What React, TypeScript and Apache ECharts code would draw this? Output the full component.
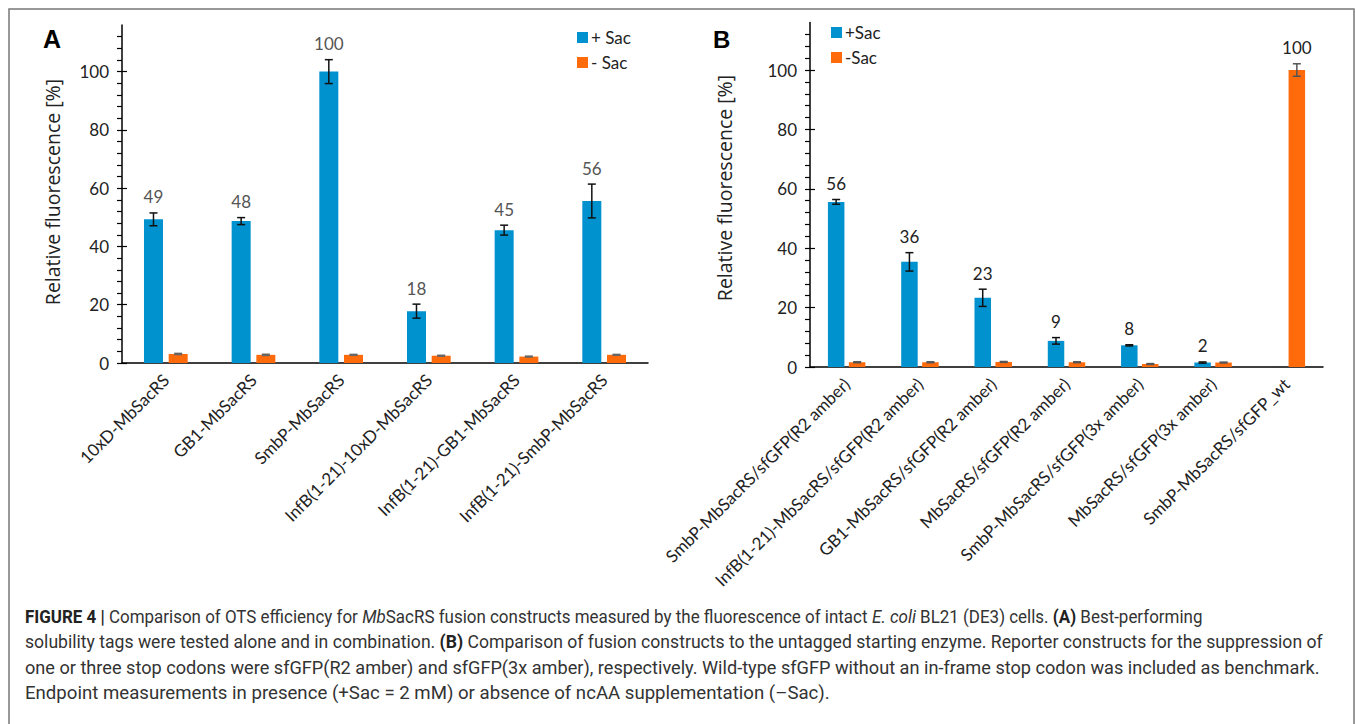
import React, { useEffect, useRef } from "react";
import * as echarts from "echarts";

// ---------- Data ----------
const catsA = [
  "10xD-MbSacRS",
  "GB1-MbSacRS",
  "SmbP-MbSacRS",
  "InfB(1-21)-10xD-MbSacRS",
  "InfB(1-21)-GB1-MbSacRS",
  "InfB(1-21)-SmbP-MbSacRS",
];
const aPlus = [49.3, 48.7, 100, 17.8, 45.6, 55.6];
const aPlusErr = [2.2, 1.2, 4.1, 2.4, 1.7, 5.8];
const aPlusLabels = ["49", "48", "100", "18", "45", "56"];
const aMinus = [3.1, 2.8, 2.8, 2.5, 2.2, 2.8];
const aMinusErr = [0.2, 0.2, 0.15, 0.15, 0.15, 0.15];
const aMinusLabels = ["", "", "", "", "", ""];

const catsB = [
  "SmbP-MbSacRS/sfGFP(R2 amber)",
  "InfB(1-21)-MbSacRS/sfGFP(R2 amber)",
  "GB1-MbSacRS/sfGFP(R2 amber)",
  "MbSacRS/sfGFP(R2 amber)",
  "SmbP-MbSacRS/sfGFP(3x amber)",
  "MbSacRS/sfGFP(3x amber)",
  "SmbP-MbSacRS/sfGFP_wt",
];
const bPlus: (number | null)[] = [55.6, 35.4, 23.3, 8.8, 7.3, 1.5, null];
const bPlusErr = [0.8, 3.1, 2.9, 1.1, 0.2, 0.2, 0];
const bPlusLabels = ["56", "36", "23", "9", "8", "2", ""];
const bMinus = [1.6, 1.6, 1.7, 1.6, 1.0, 1.5, 100];
const bMinusErr = [0.15, 0.15, 0.15, 0.15, 0.15, 0.15, 2.1];
const bMinusLabels = ["", "", "", "", "", "", "100"];

const yTicks = [0, 20, 40, 60, 80, 100];

const captionLines = [
  "{b|FIGURE 4 |} Comparison of OTS efficiency for {i|Mb}SacRS fusion constructs measured by the fluorescence of intact {i|E. coli} BL21 (DE3) cells. {b|(A)} Best-performing",
  "solubility tags were tested alone and in combination. {b|(B)} Comparison of fusion constructs to the untagged starting enzyme. Reporter constructs for the suppression of",
  "one or three stop codons were sfGFP(R2 amber) and sfGFP(3x amber), respectively. Wild-type sfGFP without an in-frame stop codon was included as benchmark.",
  "Endpoint measurements in presence (+Sac = 2 mM) or absence of ncAA supplementation (\u2013Sac).",
];
// horizontal stretch per caption line to match the reference's condensed face
const captionStretch = [0.964, 1.0, 1.031, 1.059];

// ---------- Styles ----------
const BLUE = "#0091CF";
const ORANGE = "#FF6A0B";
const LATO = "Lato, 'Noto Sans', sans-serif";
const CAP_SIZE = 17.6;

function errSeries(
  name: string,
  xi: number,
  yi: number,
  vals: (number | null)[],
  errs: number[],
  labels: string[],
  offset: number,
  color: string,
  labelColor: string
) {
  return {
    type: "custom",
    name: name + "_err",
    xAxisIndex: xi,
    yAxisIndex: yi,
    silent: true,
    z: 5,
    data: vals.map((v, i) => [i, v == null ? NaN : v, errs[i]]),
    renderItem: (params: any, api: any) => {
      const i = api.value(0);
      const v = api.value(1);
      const e = api.value(2);
      if (isNaN(v)) return null;
      const c = api.coord([i, v]);
      const t = api.coord([i, v + e]);
      const b = api.coord([i, Math.max(0, v - e)]);
      const x = c[0] + offset;
      const cap = 4;
      const st = { stroke: color, lineWidth: 1.5 };
      const children: any[] = [
        { type: "line", shape: { x1: x, y1: t[1], x2: x, y2: b[1] }, style: st },
        { type: "line", shape: { x1: x - cap, y1: t[1], x2: x + cap, y2: t[1] }, style: st },
        { type: "line", shape: { x1: x - cap, y1: b[1], x2: x + cap, y2: b[1] }, style: st },
      ];
      const lab = labels[params.dataIndex];
      if (lab) {
        children.push({
          type: "text",
          style: {
            text: lab,
            x: x,
            y: t[1] - 16,
            align: "center",
            verticalAlign: "middle",
            fill: labelColor,
            font: "17px " + LATO,
          },
        });
      }
      return { type: "group", children };
    },
  };
}

function yAxisPair(gridIndex: number) {
  const main = {
    type: "value",
    gridIndex,
    min: 0,
    max: 116,
    interval: 4,
    axisLine: { show: true, lineStyle: { color: "#000", width: 1.5 } },
    axisTick: { show: true, length: 5, lineStyle: { color: "#000", width: 1.2 } },
    splitLine: { show: false },
    axisLabel: {
      margin: 13,
      color: "#222",
      fontFamily: LATO,
      fontSize: 17,
      showMaxLabel: false,
      formatter: (v: number) => (yTicks.indexOf(v) >= 0 ? String(v) : ""),
    },
  };
  const overlay = {
    type: "value",
    gridIndex,
    min: 0,
    max: 100,
    interval: 20,
    axisLine: { show: false },
    axisTick: { show: true, inside: true, length: 5, lineStyle: { color: "#000", width: 1.2 } },
    splitLine: { show: false },
    axisLabel: { show: false },
  };
  return [main, overlay];
}

const xLabelStyle = { rotate: 45, interval: 0, margin: 14, color: "#222", fontFamily: LATO, fontSize: 17 };
const legendText = { fontFamily: LATO, fontSize: 17, color: "#222", padding: [0, 0, 0, -2] };
const titleFont = "19.5px 'Open Sans', sans-serif";

export default function App() {
  const ref = useRef<HTMLDivElement>(null);
  useEffect(() => {
    if (!ref.current) return;
    const chart = echarts.init(ref.current, undefined, { renderer: "svg" });
    const [yA, yAo] = yAxisPair(0);
    const [yB, yBo] = yAxisPair(1);
    const option: any = {
      animation: false,
      backgroundColor: "#fff",
      grid: [
        { left: 122, top: 25, width: 526, height: 338 },
        { left: 810, top: 22.5, width: 513, height: 344.5 },
        { left: 122, top: 363 - 291.4, width: 526, height: 291.4 },
        { left: 810, top: 367 - 297, width: 513, height: 297 },
      ],
      xAxis: [
        {
          type: "category",
          gridIndex: 0,
          data: catsA,
          axisLine: { lineStyle: { color: "#000", width: 1.5 } },
          axisTick: { show: false },
          axisLabel: xLabelStyle,
        },
        {
          type: "category",
          gridIndex: 1,
          data: catsB,
          axisLine: { lineStyle: { color: "#000", width: 1.5 } },
          axisTick: { show: false },
          axisLabel: xLabelStyle,
        },
        { type: "category", gridIndex: 2, data: catsA, show: false },
        { type: "category", gridIndex: 3, data: catsB, show: false },
      ],
      yAxis: [yA, yB, { ...yAo, gridIndex: 2 }, { ...yBo, gridIndex: 3 }],
      legend: [
        {
          data: ["+ Sac", "- Sac"],
          orient: "vertical",
          left: 572,
          top: 24,
          icon: "rect",
          itemWidth: 11,
          itemHeight: 11,
          itemGap: 8,
          textStyle: legendText,
        },
        {
          data: ["+Sac", "-Sac"],
          orient: "vertical",
          left: 826,
          top: 19,
          icon: "rect",
          itemWidth: 11,
          itemHeight: 11,
          itemGap: 8,
          textStyle: legendText,
        },
      ],
      series: [
        { type: "bar", name: "+ Sac", xAxisIndex: 0, yAxisIndex: 0, data: aPlus, barWidth: 19, barGap: "30%", itemStyle: { color: BLUE } },
        { type: "bar", name: "- Sac", xAxisIndex: 0, yAxisIndex: 0, data: aMinus, barWidth: 19, barGap: "30%", itemStyle: { color: ORANGE } },
        { type: "bar", name: "+Sac", xAxisIndex: 1, yAxisIndex: 1, data: bPlus, barWidth: 16.5, barGap: "27%", itemStyle: { color: BLUE } },
        { type: "bar", name: "-Sac", xAxisIndex: 1, yAxisIndex: 1, data: bMinus, barWidth: 16.5, barGap: "27%", itemStyle: { color: ORANGE } },
        errSeries("ap", 0, 0, aPlus, aPlusErr, aPlusLabels, -12.35, "#111", "#555"),
        errSeries("am", 0, 0, aMinus, aMinusErr, aMinusLabels, 12.35, "#666", "#555"),
        errSeries("bp", 1, 1, bPlus, bPlusErr, bPlusLabels, -10.5, "#111", "#222"),
        errSeries("bm", 1, 1, bMinus, bMinusErr, bMinusLabels, 10.5, "#555", "#222"),
      ],
      graphic: [
        {
          type: "rect",
          shape: { x: 9, y: 9, width: 1345, height: 730 },
          style: { fill: "none", stroke: "#777", lineWidth: 1.5 },
          silent: true,
        },
        {
          type: "text",
          x: 43,
          y: 26,
          style: { text: "A", font: "bold 25px 'Liberation Sans', Arial, sans-serif", fill: "#000" },
        },
        {
          type: "text",
          x: 713,
          y: 27,
          style: { text: "B", font: "bold 24px 'Liberation Sans', Arial, sans-serif", fill: "#000" },
        },
        {
          type: "text",
          x: 52,
          y: 192,
          rotation: Math.PI / 2,
          style: { text: "Relative fluorescence [%]", font: titleFont, fill: "#222", align: "center", verticalAlign: "middle" },
        },
        {
          type: "text",
          x: 724,
          y: 188,
          rotation: Math.PI / 2,
          style: { text: "Relative fluorescence [%]", font: titleFont, fill: "#222", align: "center", verticalAlign: "middle" },
        },
        ...captionLines.map((line, k) => ({
          type: "text",
          x: 25,
          y: 617 + k * 25.3,
          scaleX: captionStretch[k],
          style: {
            text: line,
            font: CAP_SIZE + "px Roboto, 'Liberation Sans', sans-serif",
            fill: "#333",
            verticalAlign: "middle",
            rich: {
              b: { fontWeight: "bold", fontFamily: "Roboto", fontSize: CAP_SIZE, fill: "#222" },
              i: { fontStyle: "italic", fontFamily: "Roboto", fontSize: CAP_SIZE, fill: "#333" },
            },
          },
        })),
      ],
    };
    chart.setOption(option);
    return () => chart.dispose();
  }, []);
  return (
    <div
      ref={ref}
      style={{ position: "fixed", left: 0, top: 0, width: 1355, height: 724, background: "#fff" }}
    />
  );
}
